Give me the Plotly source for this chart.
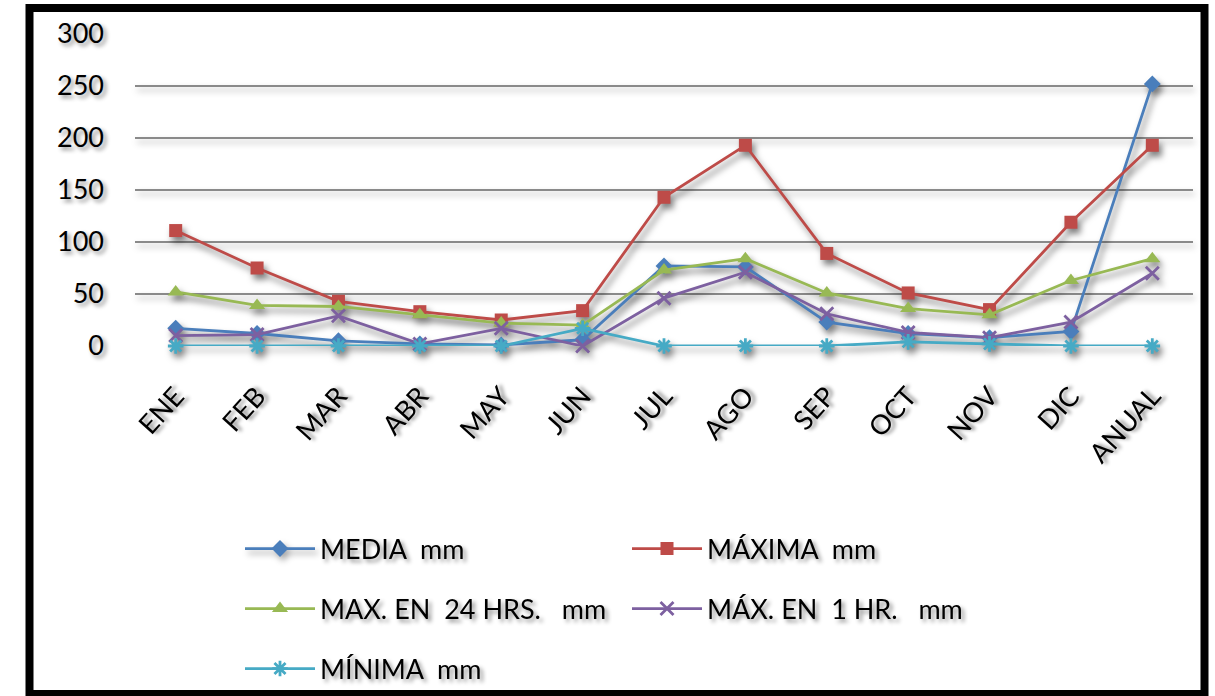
import plotly.graph_objects as go

# Rainfall statistics per month (mm)
meses = ["ENE", "FEB", "MAR", "ABR", "MAY", "JUN", "JUL", "AGO", "SEP", "OCT", "NOV", "DIC", "ANUAL"]

media_mm = [17, 12, 5, 2, 1, 6, 77, 76, 23, 12, 8, 14, 252]
maxima_mm = [111, 75, 43, 33, 25, 34, 143, 193, 89, 51, 35, 119, 193]
max_24hrs_mm = [52, 39, 38, 30, 22, 20, 73, 84, 51, 36, 30, 63, 84]
max_1hr_mm = [10, 11, 29, 2, 17, 0, 46, 71, 31, 13, 8, 23, 70]
minima_mm = [0, 0, 0, 0, 0, 17, 0, 0, 0, 4, 2, 0, 0]

W, H = 1215, 696
L, R, T, B = 135, 22, 34, 350
PW, PH = W - L - R, H - T - B


def px_x(p):
    return (p - L) / PW


def px_y(p):
    return (H - B - p) / PH


SHADOW = "3px 3px 4px rgba(0,0,0,0.45)"
FONT = dict(family="Lato", size=27, color="black", shadow=SHADOW)

# legend slots: left column / right column, three rows
row1, row2, row3 = px_y(549), px_y(609), px_y(669)
col1, col2 = px_x(240), px_x(627)

series = [
    ("MEDIA  mm", media_mm, "#4a7ebb", "diamond", 13, "legend"),
    ("MÁXIMA  mm", maxima_mm, "#be4b48", "square", 13, "legend2"),
    ("MAX. EN  24 HRS.   mm", max_24hrs_mm, "#98b954", "triangle-up", 14, "legend3"),
    ("MÁX. EN  1 HR.   mm", max_1hr_mm, "#7d60a0", "x-thin-open", 13, "legend4"),
    ("MÍNIMA  mm", minima_mm, "#46aac5", "asterisk-open", 13, "legend5"),
]
slots = {"legend": (col1, row1), "legend2": (col2, row1),
         "legend3": (col1, row2), "legend4": (col2, row2),
         "legend5": (col1, row3)}

fig = go.Figure()
for name, vals, color, symbol, size, leg in series:
    open_marker = symbol.endswith("open")
    fig.add_trace(go.Scatter(
        x=meses, y=vals, name=name, mode="lines+markers",
        line=dict(color=color, width=2.8),
        marker=dict(symbol=symbol, size=size, color=color,
                    line=dict(color=color, width=2.8 if open_marker else 0)),
        cliponaxis=False, legend=leg, showlegend=True,
    ))

leg_common = dict(orientation="h", xanchor="left", yanchor="middle",
                  font=FONT, bgcolor="rgba(0,0,0,0)", itemwidth=70)
legends = {k: dict(x=x, y=y, **leg_common) for k, (x, y) in slots.items()}

fig.update_layout(
    width=W, height=H,
    margin=dict(l=L, r=R, t=T, b=B, autoexpand=False),
    paper_bgcolor="white", plot_bgcolor="white",
    font=FONT,
    showlegend=True,
    xaxis=dict(range=[-0.5, len(meses) - 0.5], showgrid=False, zeroline=False,
               showline=False, ticks="", tickangle=-48, tickfont=FONT,
               ticklabelstandoff=28, automargin=False),
    yaxis=dict(range=[0, 300], dtick=50, showgrid=True, gridcolor="#8a8a8a",
               gridwidth=2, zeroline=False, showline=False, ticks="",
               tickfont=FONT, ticklabelstandoff=30, automargin=False),
    shapes=[
        dict(type="rect", xref="paper", yref="paper",
             x0=px_x(29.5), x1=px_x(1204.5), y0=px_y(694), y1=px_y(8),
             line=dict(color="black", width=8), layer="above"),
    ],
    **legends,
)

shadow_js = """
var gd = document.getElementById('{plot_id}');
gd.querySelectorAll('.scatterlayer').forEach(function(e){
  e.style.filter = 'drop-shadow(3px 5px 3px rgba(0,0,0,0.5))';
});
gd.querySelectorAll('.gridlayer').forEach(function(e){
  e.style.filter = 'drop-shadow(2px 4px 3px rgba(0,0,0,0.3))';
});
gd.querySelectorAll('.legend .layers').forEach(function(e){
  e.style.filter = 'drop-shadow(3px 4px 3px rgba(0,0,0,0.35))';
});
"""

fig.write_html("out.html", post_script=shadow_js)
